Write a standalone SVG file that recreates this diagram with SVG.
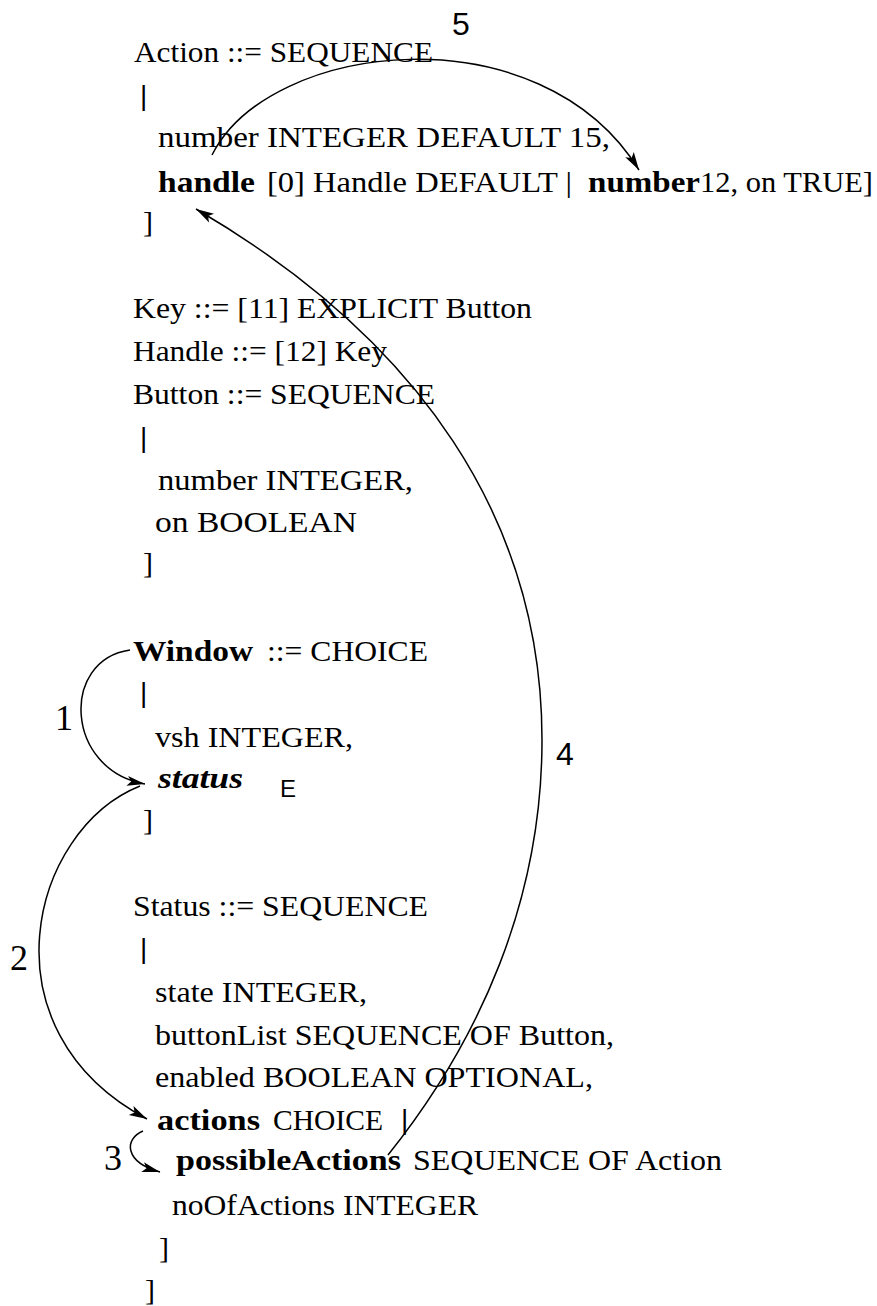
<svg xmlns="http://www.w3.org/2000/svg" width="877" height="1306" viewBox="0 0 877 1306">
<style>
text{font-family:"Liberation Serif","Times New Roman",serif;font-size:30px;fill:#000}
.b{font-weight:bold}
.bi{font-weight:bold;font-style:italic}
.bar{font-family:"Liberation Sans",Arial,sans-serif;font-size:28px}
.sans{font-family:"Liberation Sans",Arial,sans-serif}
.lbl{font-size:36px}
.lbls{font-family:"Liberation Sans",Arial,sans-serif;font-size:32px}
.c{fill:none;stroke:#000;stroke-width:1.5;marker-end:url(#ah)}
</style>
<defs>
<marker id="ah" markerUnits="userSpaceOnUse" markerWidth="20" markerHeight="12" refX="18" refY="6" orient="auto">
<path d="M0,1 L18,6 L0,11 L4,6 z" fill="#000"/>
</marker>
</defs>
<rect width="877" height="1306" fill="#fff"/>

<g id="action">
<text x="134" y="62" textLength="299" lengthAdjust="spacingAndGlyphs">Action ::= SEQUENCE</text>
<text class="bar" x="140" y="105">|</text>
<text x="158" y="147" textLength="452" lengthAdjust="spacingAndGlyphs">number INTEGER DEFAULT 15,</text>
<text class="b" x="158" y="192" textLength="97" lengthAdjust="spacingAndGlyphs">handle</text>
<text x="267" y="192" textLength="305" lengthAdjust="spacingAndGlyphs">[0] Handle DEFAULT |</text>
<text class="b" x="588" y="192" textLength="112" lengthAdjust="spacingAndGlyphs">number</text>
<text x="700" y="192" textLength="173" lengthAdjust="spacingAndGlyphs">12, on TRUE]</text>
<text x="143" y="232">]</text>
</g>

<g id="key">
<text x="133" y="318" textLength="399" lengthAdjust="spacingAndGlyphs">Key ::= [11] EXPLICIT Button</text>
</g>

<g id="handle">
<text x="133" y="361" textLength="254" lengthAdjust="spacingAndGlyphs">Handle ::= [12] Key</text>
</g>

<g id="button">
<text x="133" y="404" textLength="302" lengthAdjust="spacingAndGlyphs">Button ::= SEQUENCE</text>
<text class="bar" x="140" y="447">|</text>
<text x="158" y="490" textLength="255" lengthAdjust="spacingAndGlyphs">number INTEGER,</text>
<text x="155" y="532" textLength="202" lengthAdjust="spacingAndGlyphs">on BOOLEAN</text>
<text x="143" y="573">]</text>
</g>

<g id="window">
<text class="b" x="133" y="661" textLength="120" lengthAdjust="spacingAndGlyphs">Window</text>
<text x="267" y="661" textLength="161" lengthAdjust="spacingAndGlyphs">::= CHOICE</text>
<text class="bar" x="140" y="702">|</text>
<text x="155" y="747" textLength="198" lengthAdjust="spacingAndGlyphs">vsh INTEGER,</text>
<text class="bi" x="158" y="788" textLength="85" lengthAdjust="spacingAndGlyphs">status</text>
<text class="sans" x="280" y="797" style="font-size:24px">E</text>
<text x="143" y="830">]</text>
</g>

<g id="status">
<text x="133" y="916" textLength="295" lengthAdjust="spacingAndGlyphs">Status ::= SEQUENCE</text>
<text class="bar" x="140" y="958">|</text>
<text x="155" y="1002" textLength="212" lengthAdjust="spacingAndGlyphs">state INTEGER,</text>
<text x="155" y="1045" textLength="459" lengthAdjust="spacingAndGlyphs">buttonList SEQUENCE OF Button,</text>
<text x="155" y="1087" textLength="438" lengthAdjust="spacingAndGlyphs">enabled BOOLEAN OPTIONAL,</text>
<text class="b" x="157" y="1130" textLength="103" lengthAdjust="spacingAndGlyphs">actions</text>
<text x="273" y="1130" textLength="110" lengthAdjust="spacingAndGlyphs">CHOICE</text>
<text class="bar" x="401" y="1129">|</text>
<text class="b" x="176" y="1170" textLength="225" lengthAdjust="spacingAndGlyphs">possibleActions</text>
<text x="413" y="1170" textLength="309" lengthAdjust="spacingAndGlyphs">SEQUENCE OF Action</text>
<text x="172" y="1215" textLength="306" lengthAdjust="spacingAndGlyphs">noOfActions INTEGER</text>
<text x="159" y="1258">]</text>
<text x="145" y="1300">]</text>
</g>

<g id="connectors">
<path class="c" d="M130,650 C60,660 65,770 145,784"/>
<path class="c" d="M140,786 C30,830 -20,1030 147,1119"/>
<path class="c" d="M143,1131 C124,1139 124,1162 160,1172"/>
<path class="c" d="M388,1155 C480,1040 542,900 542,740 C542,520 420,340 196,209"/>
<path class="c" d="M212,155 C270,40 540,10 639,170"/>
<text class="lbl" x="55" y="730">1</text>
<text class="lbl" x="10" y="970">2</text>
<text class="lbl" x="104" y="1170">3</text>
<text class="lbls" x="556" y="765">4</text>
<text class="lbls" x="452" y="35">5</text>
</g>
</svg>
